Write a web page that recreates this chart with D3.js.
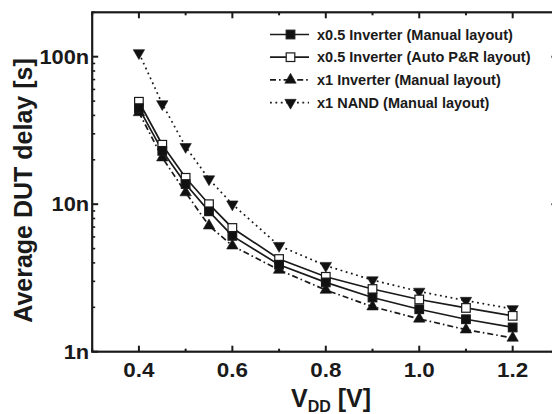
<!DOCTYPE html>
<html><head><meta charset="utf-8">
<script src="https://cdn.jsdelivr.net/npm/d3@7"></script>
<style>
html,body{margin:0;padding:0;background:#fff;}
svg{display:block;font-family:"Liberation Sans",Arial,sans-serif;font-weight:bold;}
</style></head><body>
<svg id="chart" width="552" height="414"></svg>
<script>
// ---- data (delays in ns) ----
const vdd = [0.4, 0.45, 0.5, 0.55, 0.6, 0.7, 0.8, 0.9, 1.0, 1.1, 1.2];
const inv05Manual = [44.8, 23.0, 13.7, 8.95, 6.1, 3.89, 2.95, 2.33, 1.94, 1.66, 1.46];
const inv05Auto   = [49.5, 25.3, 15.1, 10.0, 6.9, 4.25, 3.22, 2.66, 2.26, 1.98, 1.75];
const inv1Manual  = [41.9, 20.7, 12.0, 7.15, 5.23, 3.58, 2.62, 2.02, 1.67, 1.41, 1.24];
const nand1Manual = [106, 47.8, 24.5, 14.8, 10.0, 5.23, 3.83, 3.06, 2.56, 2.22, 1.95];
const seriesNames = ["x0.5 Inverter (Manual layout)", "x0.5 Inverter (Auto P&R layout)",
                     "x1 Inverter (Manual layout)", "x1 NAND (Manual layout)"];
const xTickValues = [0.4, 0.6, 0.8, 1.0, 1.2];
const xMinorValues = [0.3, 0.5, 0.7, 0.9, 1.1, 1.3];
const yTickValues = [1, 10, 100];
const yTickLabels = ["1n", "10n", "100n"];

const series = [
  {name: seriesNames[0], values: inv05Manual, marker: "square", fill: "#111", dash: null},
  {name: seriesNames[1], values: inv05Auto, marker: "square", fill: "#fff", dash: null},
  {name: seriesNames[2], values: inv1Manual, marker: "up", fill: "#111", dash: "6,3,1.6,3"},
  {name: seriesNames[3], values: nand1Manual, marker: "down", fill: "#111", dash: "1.8,3.6"}
];

const svg = d3.select("#chart");
const ink = "#1a1a1a";
const x = d3.scaleLinear().domain([0.3, 1.3]).range([92.2, 559.4]);
const y = d3.scaleLog().domain([1, 200]).range([351.7, 12.3]);
const L = x.range()[0], R = x.range()[1], B = y.range()[0], T = y.range()[1];

// minor log ticks
const yMinor = [];
[1, 10, 100].forEach(d => { for (let k = 2; k <= 9; k++) if (d * k <= 200) yMinor.push(d * k); });

const g = svg.append("g");
// ticks inward
g.selectAll(".xb").data(xTickValues).join("line")
  .attr("x1", d => x(d)).attr("x2", d => x(d)).attr("y1", B).attr("y2", B - 6)
  .attr("stroke", ink).attr("stroke-width", 2);
g.selectAll(".xbm").data(xMinorValues).join("line")
  .attr("x1", d => x(d)).attr("x2", d => x(d)).attr("y1", B).attr("y2", B - 3)
  .attr("stroke", ink).attr("stroke-width", 2);
g.selectAll(".xt").data(xTickValues).join("line")
  .attr("x1", d => x(d)).attr("x2", d => x(d)).attr("y1", T).attr("y2", T + 6)
  .attr("stroke", ink).attr("stroke-width", 2);
g.selectAll(".xtm").data(xMinorValues).join("line")
  .attr("x1", d => x(d)).attr("x2", d => x(d)).attr("y1", T).attr("y2", T + 3)
  .attr("stroke", ink).attr("stroke-width", 2);
g.selectAll(".yl").data(yTickValues).join("line")
  .attr("x1", L).attr("x2", L + 6).attr("y1", d => y(d)).attr("y2", d => y(d))
  .attr("stroke", ink).attr("stroke-width", 2);
g.selectAll(".ylm").data(yMinor).join("line")
  .attr("x1", L).attr("x2", L + 3).attr("y1", d => y(d)).attr("y2", d => y(d))
  .attr("stroke", ink).attr("stroke-width", 1.6);
g.selectAll(".yr").data(yTickValues).join("line")
  .attr("x1", R).attr("x2", R - 8).attr("y1", d => y(d)).attr("y2", d => y(d))
  .attr("stroke", ink).attr("stroke-width", 2);

// frame
g.append("rect").attr("x", L).attr("y", T).attr("width", R - L).attr("height", B - T)
  .attr("fill", "none").attr("stroke", ink).attr("stroke-width", 2.2);

// tick labels (slightly wide glyphs, as in the reference)
g.selectAll(".xlab").data(xTickValues).join("text")
  .attr("transform", d => `translate(${x(d)},377) scale(1.15,1)`).attr("text-anchor", "middle")
  .attr("font-size", 19.5).attr("fill", ink).text(d => d.toFixed(1));
g.selectAll(".ylab").data(yTickValues).join("text")
  .attr("transform", d => `translate(${L - 3},${y(d) + 7}) scale(1.12,1)`).attr("text-anchor", "end")
  .attr("font-size", 19.5).attr("fill", ink).text((d, i) => yTickLabels[i]);

// axis titles
const xt = svg.append("text").attr("x", 331).attr("y", 407).attr("text-anchor", "middle")
  .attr("font-size", 25).attr("fill", ink);
xt.append("tspan").text("V");
xt.append("tspan").attr("font-size", 16).attr("dy", 5).text("DD");
xt.append("tspan").attr("dy", -5).text(" [V]");
svg.append("text").attr("transform", "translate(32,190.5) rotate(-90)")
  .attr("text-anchor", "middle").attr("font-size", 25).attr("fill", ink)
  .text("Average DUT delay [s]");

// marker generator
function drawMarker(sel, type, fill) {
  if (type === "square") {
    sel.append("rect").attr("x", -4.3).attr("y", -4.3).attr("width", 8.6).attr("height", 8.6)
      .attr("fill", fill).attr("stroke", ink).attr("stroke-width", 1.2);
  } else {
    const p = d3.symbol().type(d3.symbolTriangle).size(56)();
    sel.append("path").attr("d", p).attr("fill", fill).attr("stroke", ink).attr("stroke-width", 0.6)
      .attr("transform", type === "down" ? "rotate(180)" : null);
  }
}

const line = d3.line().x((d, i) => x(vdd[i])).y(d => y(d));
series.forEach(s => {
  g.append("path").attr("d", line(s.values)).attr("fill", "none")
    .attr("stroke", ink).attr("stroke-width", 1.7)
    .attr("stroke-dasharray", s.dash);
});
series.slice().reverse().forEach(s => {
  s.values.forEach((v, i) => {
    const m = g.append("g").attr("transform", `translate(${x(vdd[i])},${y(v)})`);
    drawMarker(m, s.marker, s.fill);
  });
});

// legend
const leg = svg.append("g");
series.forEach((s, i) => {
  const yy = 34.5 + i * 22.7;
  leg.append("line").attr("x1", 270).attr("x2", 309).attr("y1", yy).attr("y2", yy)
    .attr("stroke", ink).attr("stroke-width", 1.7).attr("stroke-dasharray", s.dash);
  const m = leg.append("g").attr("transform", `translate(290.5,${yy})`);
  drawMarker(m, s.marker, s.fill);
  leg.append("text").attr("x", 317).attr("y", yy + 5).attr("font-size", 14.5)
    .attr("fill", ink).text(s.name);
});
</script>
</body></html>
